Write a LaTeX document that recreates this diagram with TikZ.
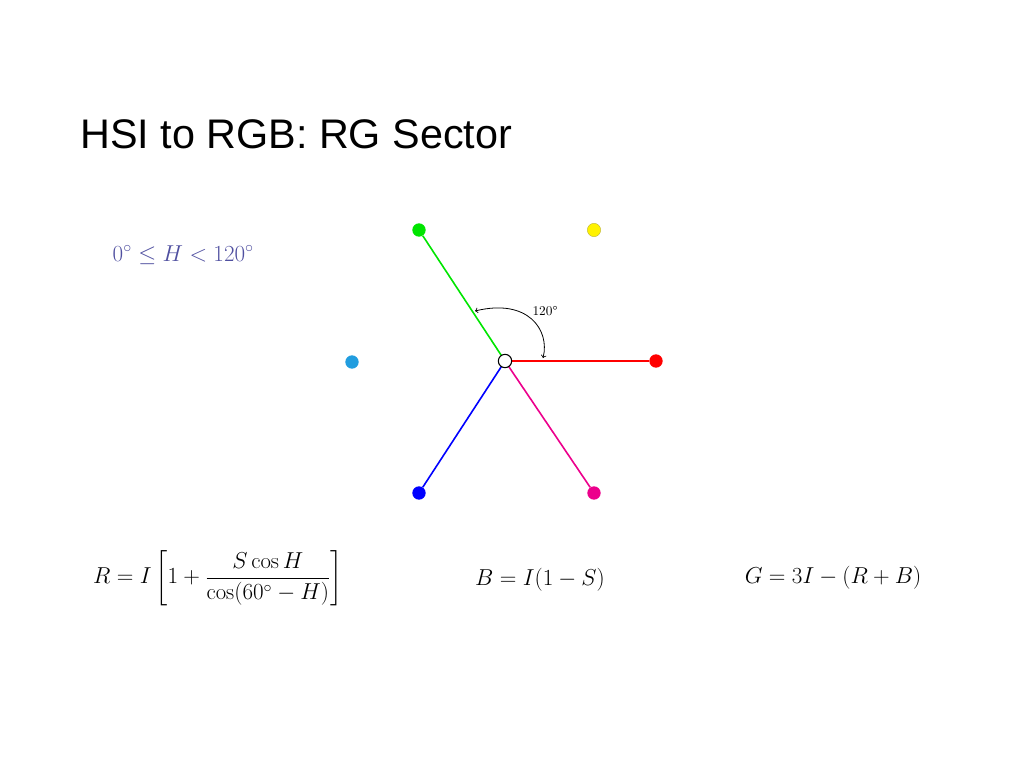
\documentclass[tikz,border=0pt]{standalone}
\usepackage{fontspec}
\usepackage{amsmath}
\newfontfamily\arialf{Liberation Sans}
\newfontfamily\timesf{Liberation Serif}
\begin{document}
\begin{tikzpicture}[x=0.75pt,y=-0.75pt,
  dot/.style={circle,inner sep=0pt,minimum size=10pt},
  eq/.style={font=\fontsize{17}{20}\selectfont}]
\useasboundingbox (0,0) rectangle (1024,768);
\node[anchor=base west,font=\arialf\fontsize{31}{36}\selectfont,inner sep=0pt] (title) at (80,148) {HSI to RGB: RG Sector};
\node[font=\fontsize{17}{20}\selectfont,anchor=west] (cond) at (108,255) {\color[RGB]{80,80,160}$0^\circ \le H < 120^\circ$};
\coordinate (c) at (505,361);
\node[dot,fill=red] (r) at (656,361) {};
\node[dot,fill=green!90!black] (g) at (419,230) {};
\node[dot,fill=yellow,draw=yellow!70!black,line width=0.3pt] (y) at (594,230) {};
\node[dot,fill=cyan!80!blue!90!white] (cy) at (352,362) {};
\node[dot,fill=blue] (b) at (419,493) {};
\node[dot,fill=magenta] (m) at (594,493) {};
\draw[red,line width=1.2pt] (c) -- (r);
\draw[green!90!black,line width=1.2pt] (c) -- (g);
\draw[blue,line width=1.2pt] (c) -- (b);
\draw[magenta,line width=1.2pt] (c) -- (m);
\node[circle,draw,fill=white,inner sep=0pt,minimum size=10pt,line width=0.8pt] (cn) at (c) {};
\coordinate (a1) at (475,311);
\coordinate (a2) at (543,358);
\draw[<->,>=to,line width=0.6pt] (a1) .. controls (528,298) and (550,330) .. (a2);
\node[font=\fontsize{10}{12}\selectfont] (lab) at (545,311) {120°};
\node[eq] (req) at (218,578) {$R = I\left[1+\dfrac{S\cos H}{\cos(60^\circ - H)}\right]$};
\node[eq] (beq) at (540,580) {$B = I(1-S)$};
\node[eq] (geq) at (833,578) {$G = 3I-(R+B)$};
\end{tikzpicture}
\end{document}
